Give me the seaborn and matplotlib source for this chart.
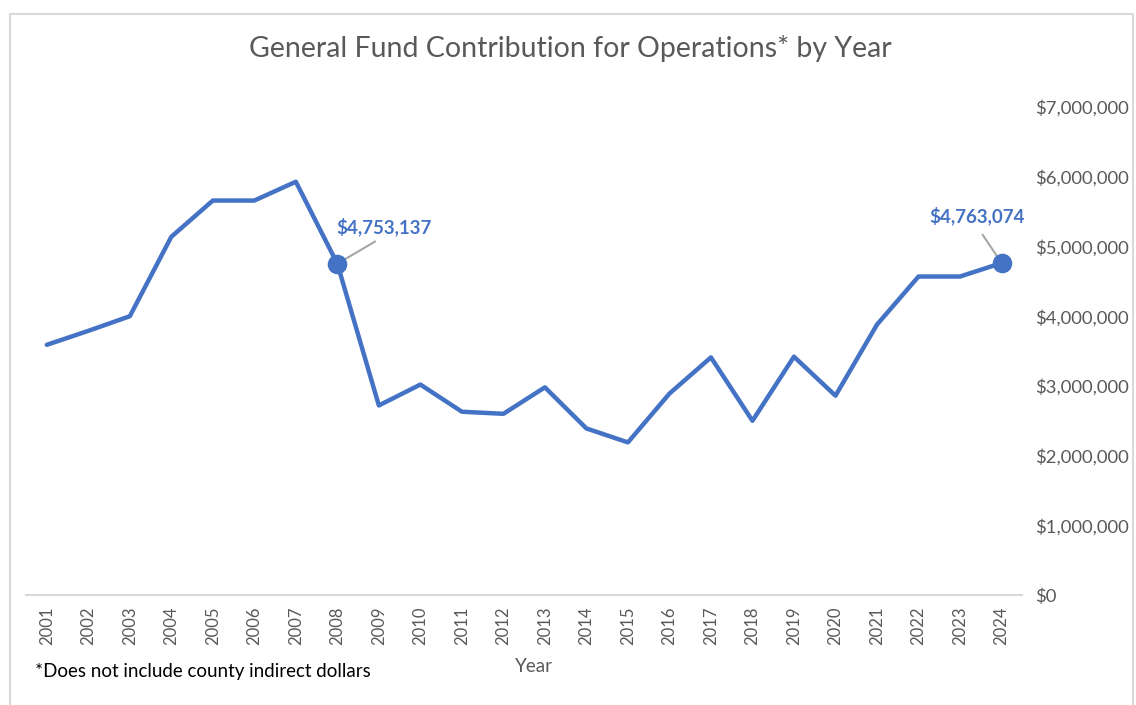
import matplotlib
matplotlib.use("Agg")
import matplotlib.pyplot as plt
import matplotlib.ticker as mticker
from matplotlib.patches import Rectangle
import pandas as pd
import seaborn as sns

years = list(range(2001, 2025))
contribution = [3590000, 3790000, 4000000, 5140000, 5660000, 5660000, 5930000,
                4753137, 2720000, 3020000, 2630000, 2600000, 2980000, 2390000,
                2190000, 2890000, 3410000, 2500000, 3420000, 2860000, 3880000,
                4570000, 4570000, 4763074]
highlight_years = [2008, 2024]

df = pd.DataFrame({"Year": years, "Contribution": contribution})

sns.set_style("white")
plt.rcParams['font.family'] = ['Lato', 'DejaVu Sans']

blue = "#4472C4"
gray_text = "#595959"

fig = plt.figure(figsize=(11.36, 7.05), dpi=100)
ax = fig.add_axes([0.0229, 0.156, 0.877, 0.692])

sns.lineplot(data=df, x="Year", y="Contribution", ax=ax, color=blue, linewidth=3.2)

hl = df[df["Year"].isin(highlight_years)]
sns.scatterplot(data=hl, x="Year", y="Contribution", ax=ax, color=blue, s=170,
                edgecolor=blue, zorder=5)

ax.set_xlim(2000.5, 2024.5)
ax.set_ylim(0, 7000000)
ax.set_xticks(years)
ax.set_xticklabels([str(y) for y in years], rotation=90, color=gray_text, fontsize=12)
ax.yaxis.tick_right()
ax.yaxis.set_major_locator(mticker.MultipleLocator(1000000))
ax.yaxis.set_major_formatter(mticker.FuncFormatter(lambda v, p: f"${v:,.0f}"))
ax.tick_params(axis="y", colors=gray_text, labelsize=13.3, length=0, pad=9)
ax.tick_params(axis="x", length=0, pad=8)

for s in ["top", "left", "right"]:
    ax.spines[s].set_visible(False)
ax.spines["bottom"].set_color("#d9d9d9")
ax.spines["bottom"].set_linewidth(1.5)

ax.set_xlabel("Year", color=gray_text, fontsize=13.5, labelpad=6)
ax.set_ylabel("")
ax.xaxis.set_label_coords(0.51, -0.13)

ax.set_title("General Fund Contribution for Operations* by Year",
             color=gray_text, fontsize=20.5, pad=36, x=0.546)

# callouts
ax.annotate(f"${contribution[7]:,}", xy=(2008, contribution[7]), xytext=(2009.13, 5150000),
            color=blue, fontsize=13.5, fontweight="bold", ha="center", va="bottom",
            arrowprops=dict(arrowstyle="-", color="#a6a6a6", lw=1.5, shrinkA=3, shrinkB=0,
                            relpos=(0.5, 0)))
ax.annotate(f"${contribution[-1]:,}", xy=(2024, contribution[-1]), xytext=(2023.4, 5300000),
            color=blue, fontsize=13.5, fontweight="bold", ha="center", va="bottom",
            arrowprops=dict(arrowstyle="-", color="#a6a6a6", lw=1.5, shrinkA=5, shrinkB=0,
                            relpos=(0.5, 0)))

fig.text(0.031, 0.04, "*Does not include county indirect dollars", fontsize=13.5, color="black")

fig.patches.append(Rectangle((0.009, -0.01), 0.988, 0.99, transform=fig.transFigure,
                             fill=False, edgecolor="#d9d9d9", linewidth=1.5))

fig.savefig("out.png", dpi=100)
